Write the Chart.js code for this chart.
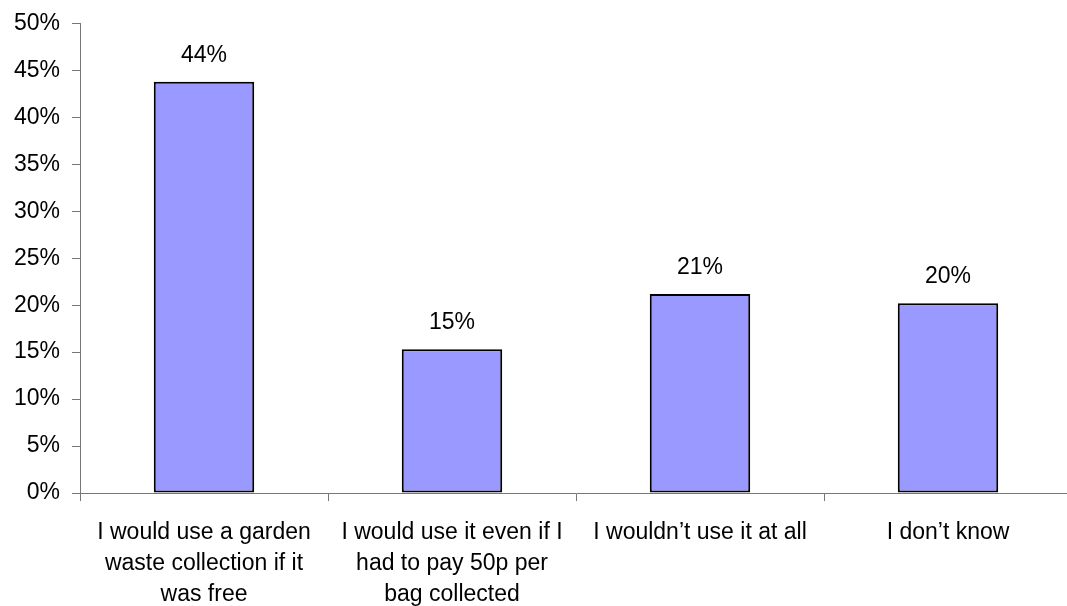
<!DOCTYPE html>
<html>
<head>
<meta charset="utf-8">
<script src="https://cdn.jsdelivr.net/npm/chart.js@4"></script>
<style>
  html, body { margin: 0; padding: 0; background: #fff; overflow: hidden; }
  #wrap { width: 1072px; height: 606px; }
</style>
</head>
<body>
<div id="wrap"><canvas id="chart"></canvas></div>
<script>
// data
const categories = [
  ["I would use a garden", "waste collection if it", "was free"],
  ["I would use it even if I", "had to pay 50p per", "bag collected"],
  ["I wouldn\u2019t use it at all"],
  ["I don\u2019t know"]
];
const shares = [43.8, 15.3, 21.2, 20.2];
const shareLabels = ["44%", "15%", "21%", "20%"];
const yTicks = [0, 5, 10, 15, 20, 25, 30, 35, 40, 45, 50];

const family = "'Liberation Sans', Arial, sans-serif";
const xFont = { family: family, size: 23, lineHeight: 1.35 };
const yFont = { family: family, size: 23, lineHeight: 1 };

// labels above the bars
const barLabels = {
  id: "barLabels",
  afterDatasetsDraw(chart) {
    const ctx = chart.ctx;
    const meta = chart.getDatasetMeta(0);
    ctx.save();
    ctx.font = "23px " + family;
    ctx.fillStyle = "#000";
    ctx.textAlign = "center";
    ctx.textBaseline = "bottom";
    meta.data.forEach((bar, i) => {
      ctx.fillText(shareLabels[i], bar.x, bar.y - 15);
    });
    ctx.restore();
  }
};

new Chart(document.getElementById("chart"), {
  type: "bar",
  data: {
    labels: categories,
    datasets: [{
      data: shares,
      backgroundColor: "#9999ff",
      borderColor: "#000",
      borderWidth: 2,
      borderSkipped: false,
      barPercentage: 0.405,
      categoryPercentage: 1
    }]
  },
  options: {
    responsive: true,
    maintainAspectRatio: false,
    animation: false,
    layout: { padding: { top: 22, left: 0, right: 0, bottom: 0 } },
    plugins: { legend: { display: false }, tooltip: { enabled: false } },
    scales: {
      x: {
        grid: { drawOnChartArea: false, drawTicks: true, tickLength: 8, color: "#777" },
        border: { color: "#777", width: 1 },
        ticks: { color: "#000", font: xFont, maxRotation: 0, autoSkip: false, padding: 16 },
        afterFit(scale) { scale.height = 113; }
      },
      y: {
        min: 0,
        max: 50,
        afterBuildTicks(scale) { scale.ticks = yTicks.map(v => ({ value: v })); },
        grid: { drawOnChartArea: false, drawTicks: true, tickLength: 8, color: "#777" },
        border: { color: "#777", width: 1 },
        ticks: { color: "#000", font: yFont, padding: 12, callback: v => v + "%" },
        afterFit(scale) { scale.width = 80; }
      }
    }
  },
  plugins: [barLabels]
});
</script>
</body>
</html>
